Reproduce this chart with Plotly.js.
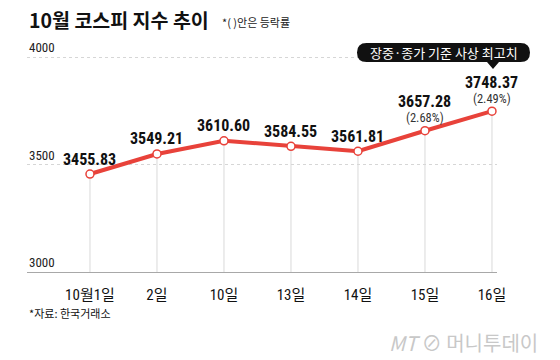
<!DOCTYPE html>
<html><head><meta charset="utf-8">
<script src="https://cdn.plot.ly/plotly-3.0.1.min.js"></script>
<style>html,body{margin:0;padding:0;background:#fff}#c{width:560px;height:360px}</style>
</head><body><div id="c"></div>
<script>
const dates = ['10월1일','2일','10일','13일','14일','15일','16일'];
const values = [3455.83, 3549.21, 3610.60, 3584.55, 3561.81, 3657.28, 3748.37];
const changes = ['', '', '', '', '', '2.68%', '2.49%'];
const yTicks = [3000, 3500, 4000];

const L = 27, R = 63, T = 56, B = 88, W = 560 - L - R, H = 360 - T - B;
const px = x => (x - L) / W;
const py = y => (360 - B - y) / H;
const KR = '"Noto Sans CJK KR", "Noto Sans", sans-serif';
const NUM = '"Liberation Sans Narrow", "Roboto Condensed", "Liberation Sans", ' + KR;
const red = '#e8423a';

const stems = {
  x: dates, y: values, type: 'scatter', mode: 'markers',
  marker: {size: 1, opacity: 0}, hoverinfo: 'skip',
  error_y: {type: 'data', symmetric: false, array: values.map(() => 0),
            arrayminus: values.map(v => v - yTicks[0]), color: '#d9d9d9', thickness: 1, width: 0}
};
const line = {
  x: dates, y: values, type: 'scatter', mode: 'lines+markers',
  line: {color: red, width: 4},
  marker: {size: 8, color: '#fff', line: {color: red, width: 1.5}}
};

const ann = [];
yTicks.forEach(t => ann.push({xref: 'paper', yref: 'y', x: 0, y: t, xanchor: 'left', yanchor: 'bottom',
  yshift: 0, text: String(t), showarrow: false, font: {family: NUM, size: 13, color: '#222'}}));
values.forEach((v, i) => {
  const hasPct = changes[i] !== '';
  ann.push({x: dates[i], y: v, xref: 'x', yref: 'y', text: v.toFixed(2), showarrow: false,
    yanchor: 'middle', yshift: hasPct ? 29 : 15,
    font: {family: NUM, size: 16, color: '#111', weight: 'bold'}});
  if (hasPct) ann.push({x: dates[i], y: v, xref: 'x', yref: 'y', text: '(' + changes[i] + ')', showarrow: false,
    yanchor: 'middle', yshift: 13, font: {family: NUM, size: 12.5, color: '#333'}});
});
ann.push({xref: 'paper', yref: 'paper', x: px(27), y: py(20), xanchor: 'left', yanchor: 'middle',
  text: '<b>10월 코스피 지수 추이</b>', showarrow: false, font: {family: KR, size: 19.5, color: '#111'}});
ann.push({xref: 'paper', yref: 'paper', x: px(220), y: py(22), xanchor: 'left', yanchor: 'middle',
  text: '*( )안은 등락률', showarrow: false, font: {family: KR, size: 11, color: '#222'}});
ann.push({xref: 'paper', yref: 'paper', x: px(443.5), y: py(52.5), xanchor: 'center', yanchor: 'middle',
  text: '장중·종가 기준 사상 최고치', showarrow: false, font: {family: KR, size: 13, color: '#fff'}});
ann.push({xref: 'paper', yref: 'paper', x: px(27), y: py(313), xanchor: 'left', yanchor: 'middle',
  text: '*자료: 한국거래소', showarrow: false, font: {family: KR, size: 11, color: '#111'}});
ann.push({xref: 'paper', yref: 'paper', x: px(540), y: py(342), xanchor: 'right', yanchor: 'middle',
  text: '<i>MT</i> ⊘ 머니투데이', showarrow: false, font: {family: KR, size: 20, color: '#c8c8c8'}});

// rounded callout box + pointer (paper coords from pixel helpers)
const x0 = 357, x1 = 530, y0 = 43, y1 = 62, r = 9.5;
const P = (x, y) => px(x) + ',' + py(y);
const path = 'M' + P(x0 + r, y0) + ' L' + P(x1 - r, y0) + ' Q' + P(x1, y0) + ' ' + P(x1, y0 + r) +
  ' Q' + P(x1, y1) + ' ' + P(x1 - r, y1) + ' L' + P(499, y1) + ' L' + P(493, 69) + ' L' + P(487, y1) +
  ' L' + P(x0 + r, y1) + ' Q' + P(x0, y1) + ' ' + P(x0, y1 - r) + ' Q' + P(x0, y0) + ' ' + P(x0 + r, y0) + ' Z';

const layout = {
  width: 560, height: 360, margin: {l: L, r: R, t: T, b: B},
  paper_bgcolor: '#fff', plot_bgcolor: '#fff', showlegend: false,
  xaxis: {type: 'category', range: [-0.94, 6.075], showgrid: false, zeroline: false,
    showline: true, linecolor: '#a8a8a8', linewidth: 1, ticks: '', ticklabelstandoff: 9,
    tickfont: {family: NUM, size: 15, color: '#111'}, fixedrange: true},
  yaxis: {range: [3000, 4005], tickvals: yTicks, showticklabels: false,
    showgrid: true, gridcolor: '#d6d6d6', griddash: 'dot',
    zeroline: false, showline: false, ticks: ''},
  annotations: ann,
  shapes: [{type: 'path', xref: 'paper', yref: 'paper', path: path, fillcolor: '#111', line: {width: 0}}]
};
Plotly.newPlot('c', [stems, line], layout, {staticPlot: true});
</script></body></html>
